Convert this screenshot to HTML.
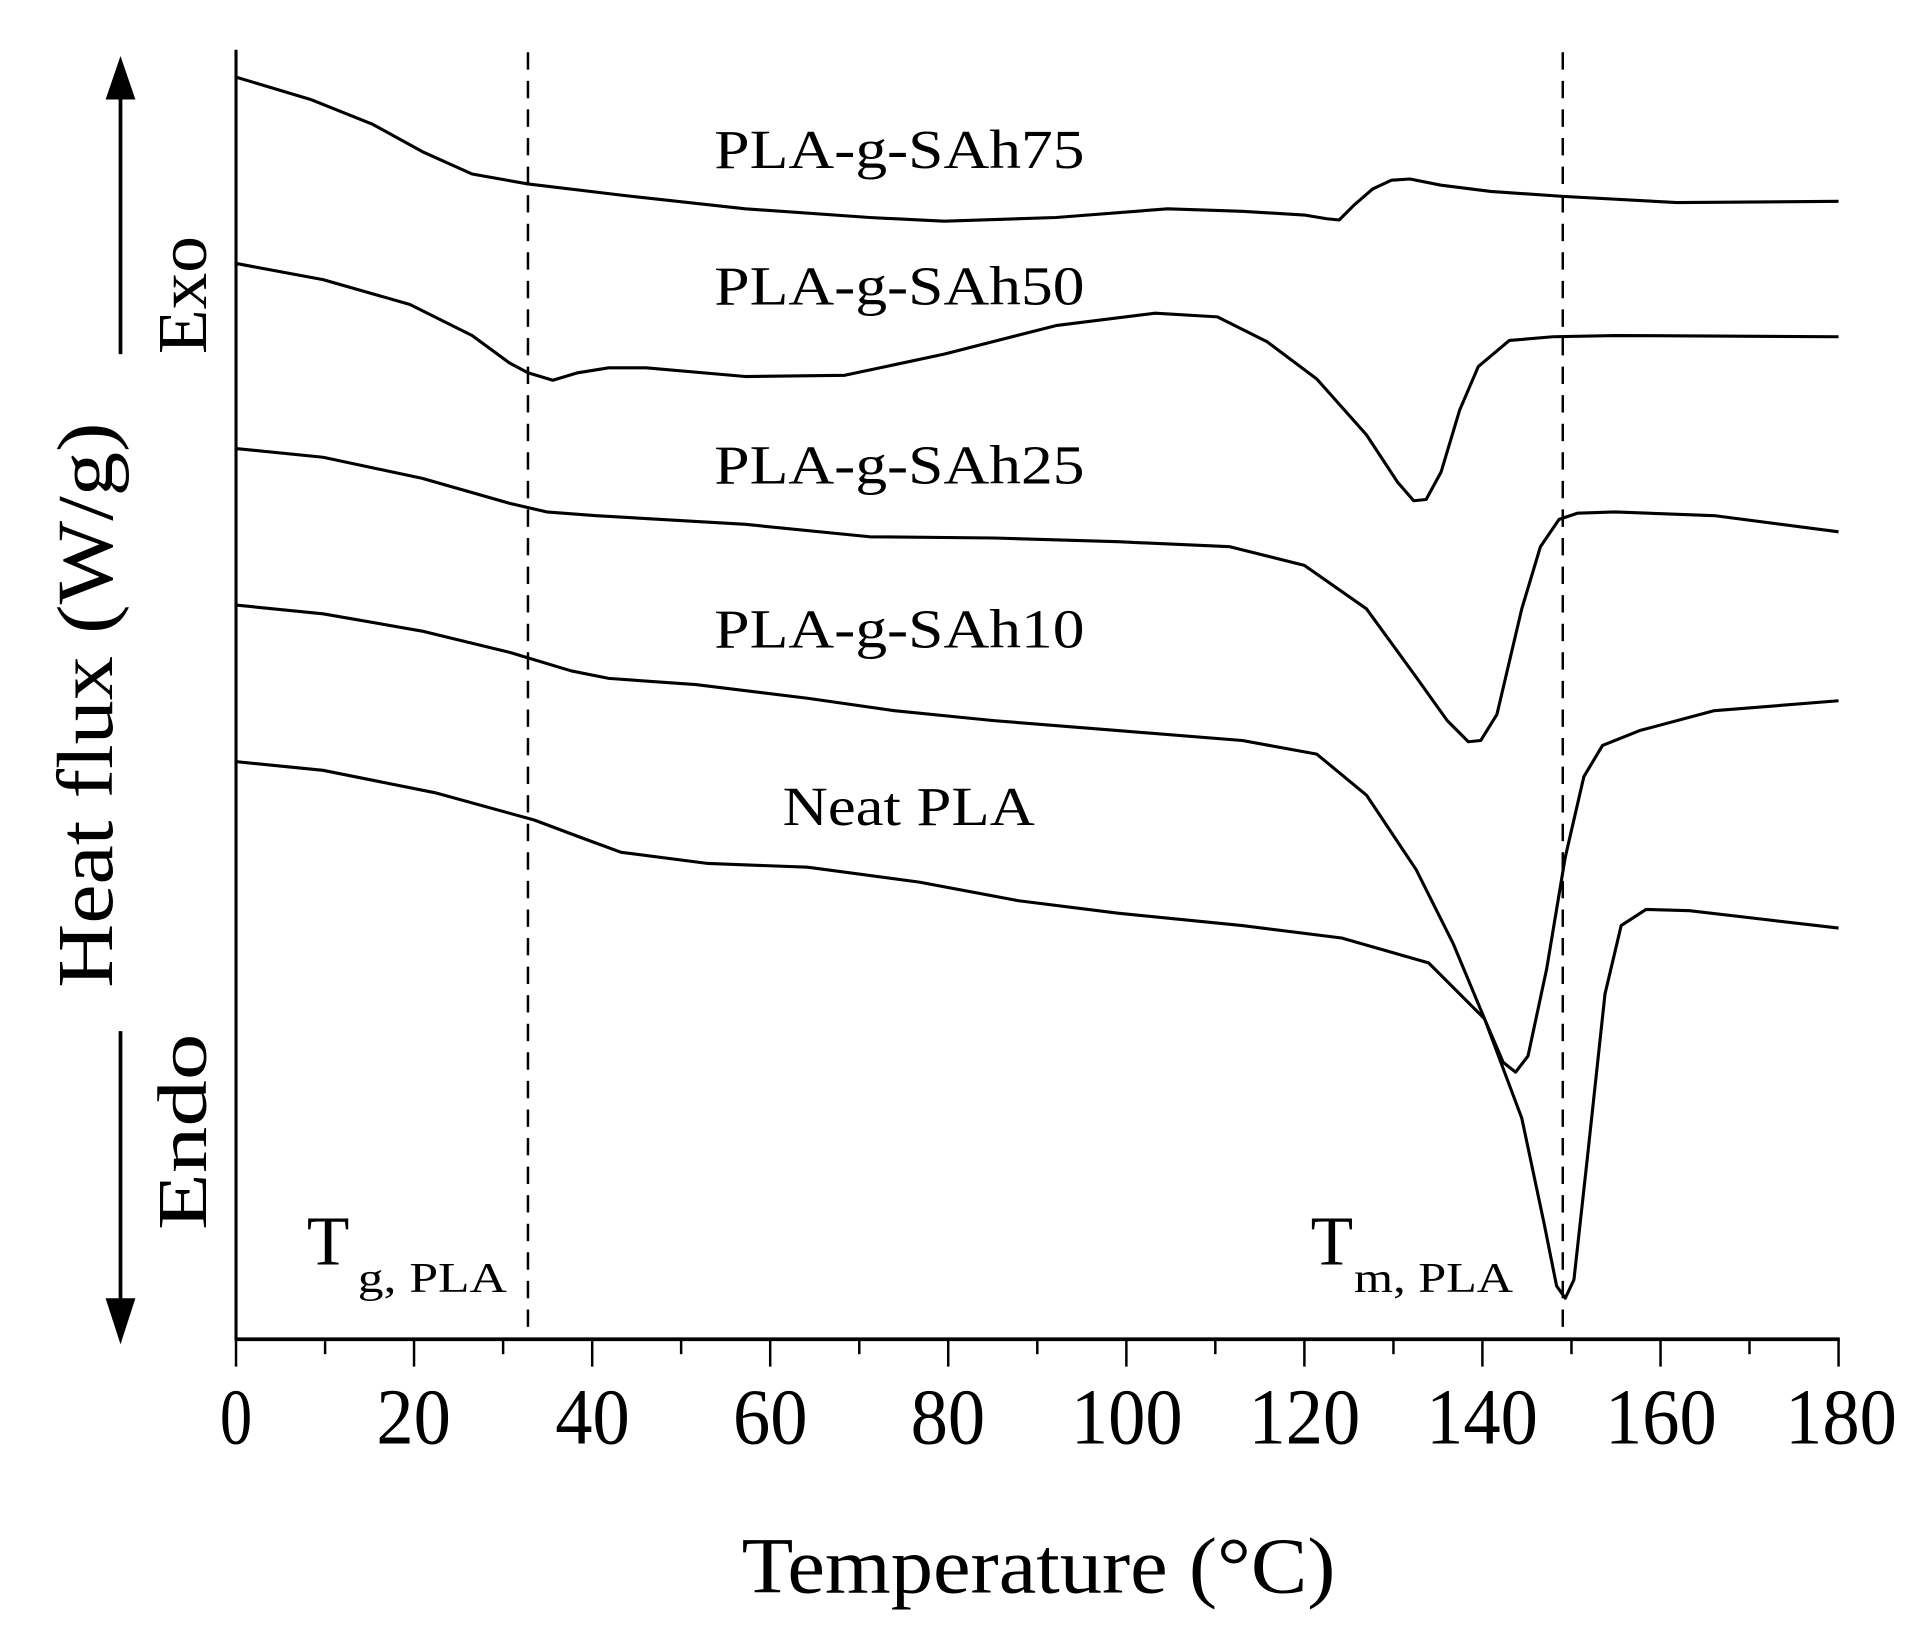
<!DOCTYPE html>
<html><head><meta charset="utf-8"><style>html,body{margin:0;padding:0;background:#fff}svg{display:block}</style></head>
<body>
<svg width="1928" height="1640" viewBox="0 0 1552 1320" xmlns="http://www.w3.org/2000/svg" font-family="Liberation Serif, serif">
<rect width="1552" height="1320" fill="#fff"/>
<line x1="190" y1="40" x2="190" y2="1079" stroke="#000" stroke-width="2.5"/>
<line x1="189" y1="1078" x2="1481" y2="1078" stroke="#000" stroke-width="3"/>
<g stroke="#000" stroke-width="2">
<line x1="190" y1="1078" x2="190" y2="1100"/><line x1="261.7" y1="1078" x2="261.7" y2="1090"/>
<line x1="333.3" y1="1078" x2="333.3" y2="1100"/><line x1="405" y1="1078" x2="405" y2="1090"/>
<line x1="476.7" y1="1078" x2="476.7" y2="1100"/><line x1="548.3" y1="1078" x2="548.3" y2="1090"/>
<line x1="620" y1="1078" x2="620" y2="1100"/><line x1="691.7" y1="1078" x2="691.7" y2="1090"/>
<line x1="763.3" y1="1078" x2="763.3" y2="1100"/><line x1="835" y1="1078" x2="835" y2="1090"/>
<line x1="906.7" y1="1078" x2="906.7" y2="1100"/><line x1="978.3" y1="1078" x2="978.3" y2="1090"/>
<line x1="1050" y1="1078" x2="1050" y2="1100"/><line x1="1121.7" y1="1078" x2="1121.7" y2="1090"/>
<line x1="1193.3" y1="1078" x2="1193.3" y2="1100"/><line x1="1265" y1="1078" x2="1265" y2="1090"/>
<line x1="1336.7" y1="1078" x2="1336.7" y2="1100"/><line x1="1408.3" y1="1078" x2="1408.3" y2="1090"/>
<line x1="1480" y1="1078" x2="1480" y2="1100"/>
</g>
<g font-size="64" text-anchor="middle">
<text x="190" y="1162" textLength="26" lengthAdjust="spacingAndGlyphs">0</text>
<text x="333" y="1162" textLength="60" lengthAdjust="spacingAndGlyphs">20</text>
<text x="477" y="1162" textLength="60" lengthAdjust="spacingAndGlyphs">40</text>
<text x="620" y="1162" textLength="60" lengthAdjust="spacingAndGlyphs">60</text>
<text x="763" y="1162" textLength="60" lengthAdjust="spacingAndGlyphs">80</text>
<text x="907" y="1162" textLength="90" lengthAdjust="spacingAndGlyphs">100</text>
<text x="1050" y="1162" textLength="90" lengthAdjust="spacingAndGlyphs">120</text>
<text x="1193" y="1162" textLength="90" lengthAdjust="spacingAndGlyphs">140</text>
<text x="1337" y="1162" textLength="90" lengthAdjust="spacingAndGlyphs">160</text>
<text x="1482" y="1162" textLength="90" lengthAdjust="spacingAndGlyphs">180</text>
</g>
<text x="597" y="1282" font-size="64" textLength="478" lengthAdjust="spacingAndGlyphs">Temperature (°C)</text>
<text transform="translate(90,795) rotate(-90)" font-size="64" textLength="455" lengthAdjust="spacingAndGlyphs">Heat flux (W/g)</text>
<text transform="translate(166,285) rotate(-90)" font-size="56" textLength="95" lengthAdjust="spacingAndGlyphs">Exo</text>
<text transform="translate(166,990) rotate(-90)" font-size="56" textLength="158" lengthAdjust="spacingAndGlyphs">Endo</text>
<line x1="97" y1="285" x2="97" y2="70" stroke="#000" stroke-width="3"/>
<polygon points="97,45 85,80 109,80" fill="#000"/>
<line x1="97" y1="830" x2="97" y2="1055" stroke="#000" stroke-width="3"/>
<polygon points="97,1082 85,1045 109,1045" fill="#000"/>
<g stroke="#000" stroke-width="2" stroke-dasharray="14,9">
<line x1="425" y1="42" x2="425" y2="1078"/><line x1="1258" y1="42" x2="1258" y2="1078"/>
</g>
<g fill="none" stroke="#000" stroke-width="2.5" stroke-linejoin="round">
<polyline points="190,62 250,80 300,100 340,122 380,140 425,148 500,157 600,168 700,175 760,178 850,175 940,168 1000,170 1050,173 1068,176 1078,177 1090,165 1105,152 1120,145 1135,144 1160,149 1200,154 1258,158 1350,163 1480,162"/>
<polyline points="190,212 260,225 330,245 380,270 410,292 425,300 445,306 465,300 490,296 520,296 600,303 680,302 760,285 850,262 930,252 980,255 1020,275 1060,305 1100,350 1125,388 1138,403 1148,402 1160,380 1175,330 1190,295 1215,274 1250,271 1300,270 1480,271"/>
<polyline points="190,361 260,368 340,385 410,405 440,412 480,415 600,422 700,432 800,433 900,436 990,440 1050,455 1100,490 1140,545 1165,580 1182,597 1192,596 1205,575 1225,490 1240,440 1255,418 1270,413 1300,412 1380,415 1480,428"/>
<polyline points="190,487 260,494 340,508 410,525 460,540 490,546 560,551 650,562 720,572 800,580 900,588 1000,596 1060,607 1100,640 1140,700 1170,760 1195,820 1210,855 1220,863 1230,850 1245,780 1260,690 1275,625 1290,600 1320,588 1380,572 1480,564"/>
<polyline points="190,613 260,620 350,638 430,660 470,675 500,686 570,695 650,698 740,710 820,725 900,735 1000,745 1080,755 1150,775 1195,820 1225,900 1243,985 1253,1035 1260,1045 1267,1030 1278,930 1292,800 1305,745 1325,732 1360,733 1420,740 1480,747"/>
</g>
<g font-size="44">
<text x="575" y="135" textLength="298" lengthAdjust="spacingAndGlyphs">PLA-g-SAh75</text>
<text x="575" y="245" textLength="298" lengthAdjust="spacingAndGlyphs">PLA-g-SAh50</text>
<text x="575" y="389" textLength="298" lengthAdjust="spacingAndGlyphs">PLA-g-SAh25</text>
<text x="575" y="521" textLength="298" lengthAdjust="spacingAndGlyphs">PLA-g-SAh10</text>
<text x="630" y="664" textLength="203" lengthAdjust="spacingAndGlyphs">Neat PLA</text>
</g>
<text x="247" y="1018" font-size="56">T</text>
<text x="288" y="1040" font-size="34" textLength="120" lengthAdjust="spacingAndGlyphs">g, PLA</text>
<text x="1055" y="1018" font-size="56">T</text>
<text x="1090" y="1040" font-size="34" textLength="128" lengthAdjust="spacingAndGlyphs">m, PLA</text>
</svg>
</body></html>
